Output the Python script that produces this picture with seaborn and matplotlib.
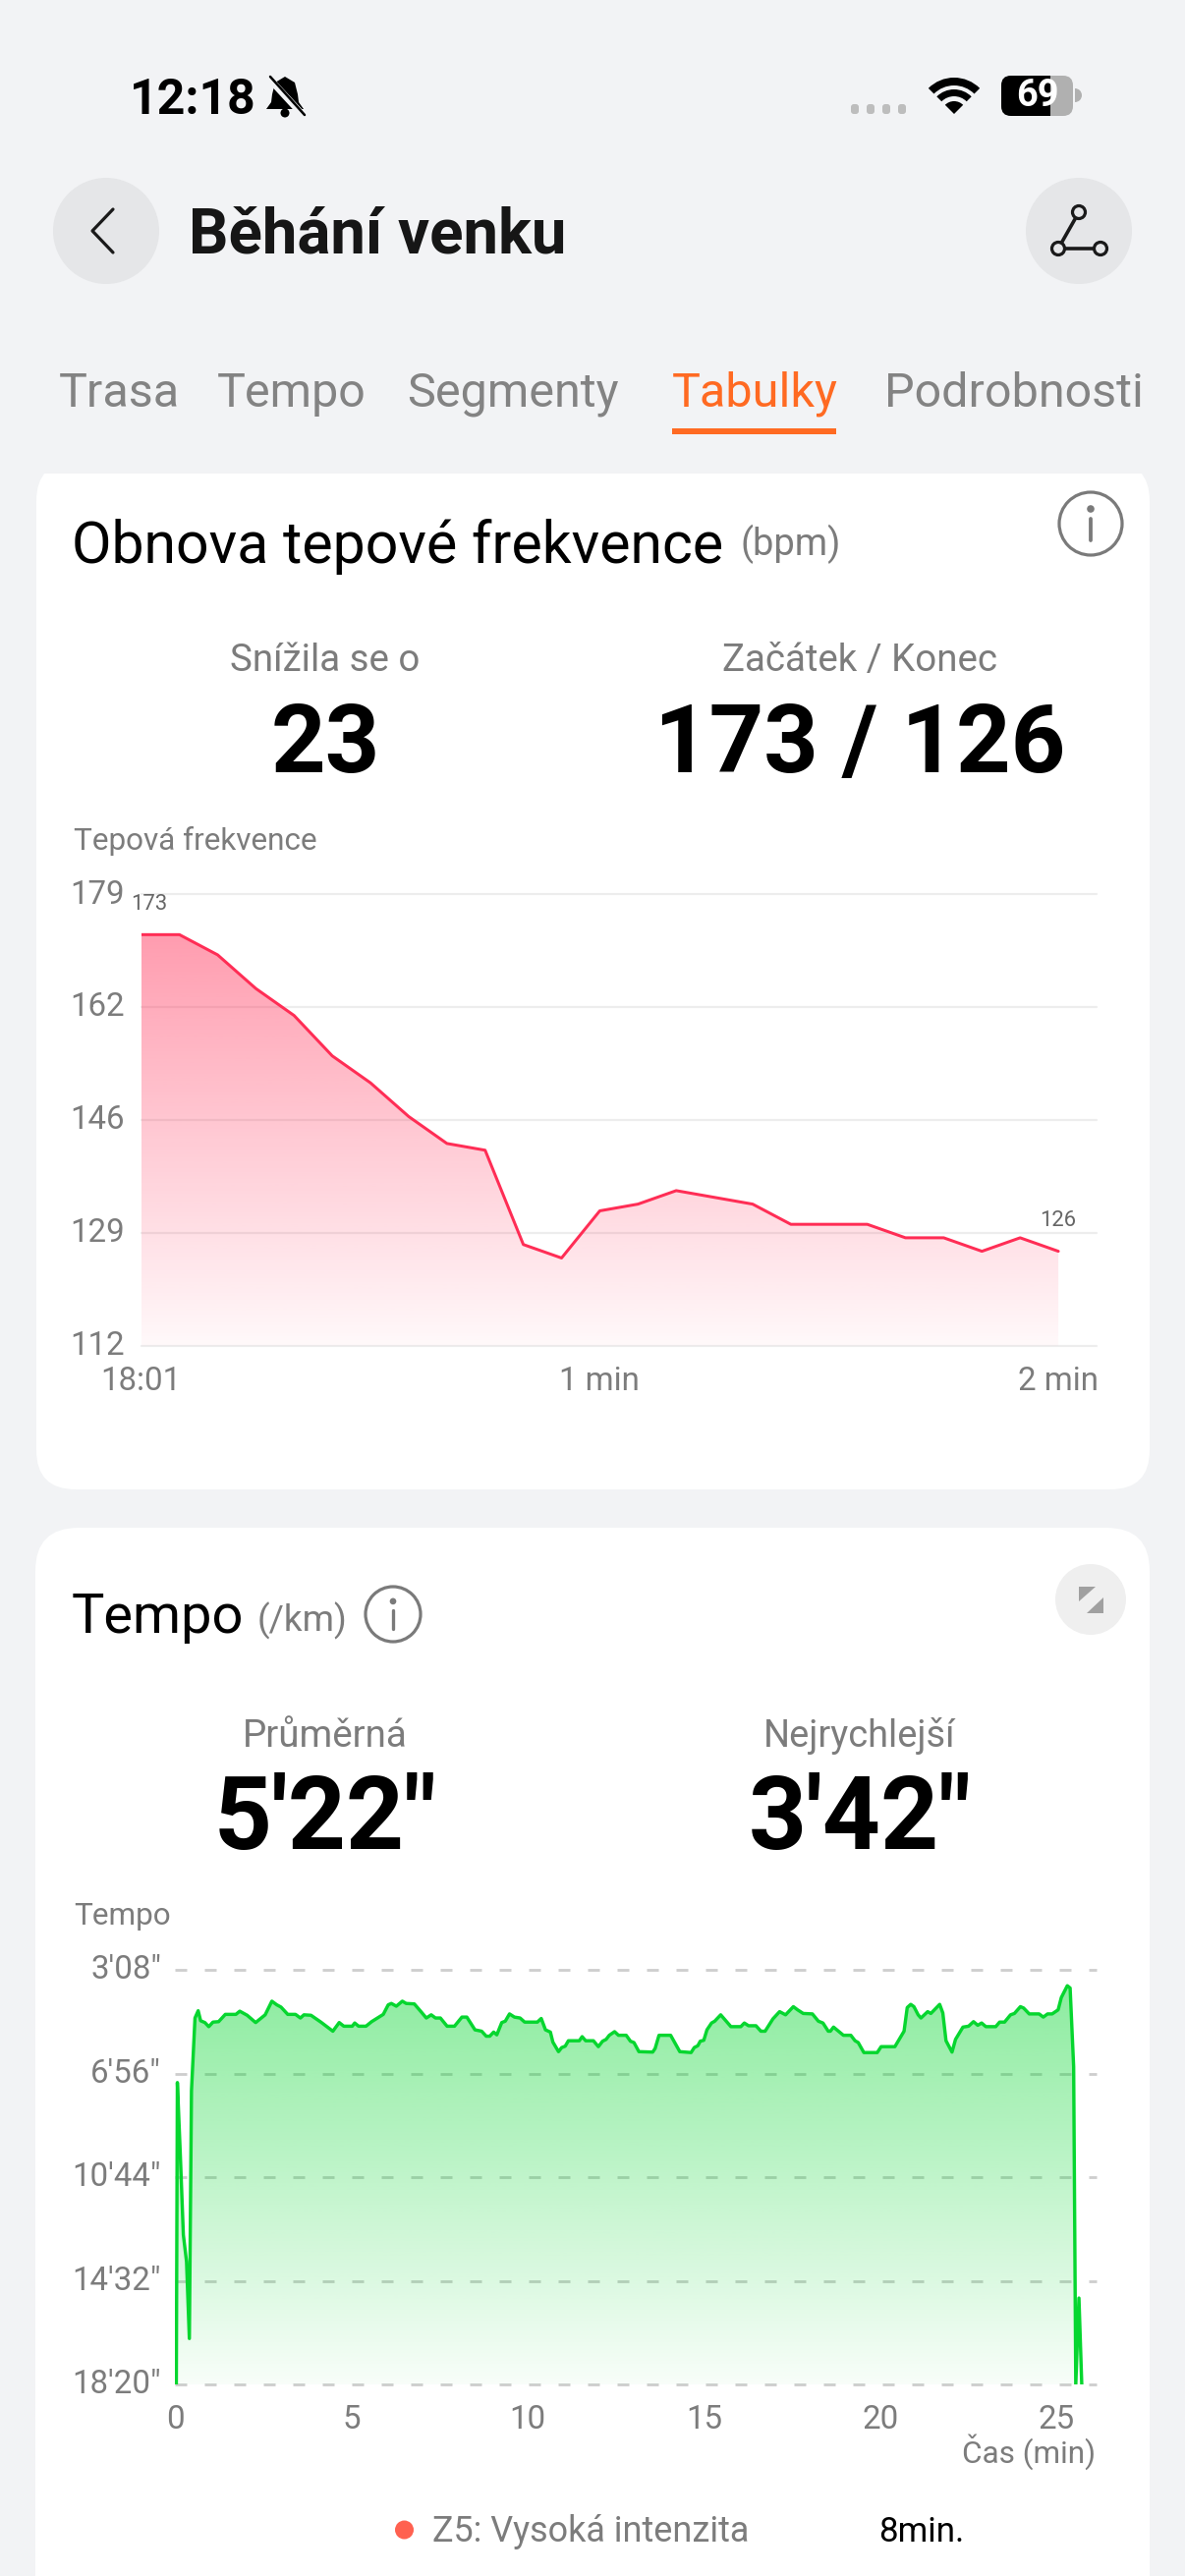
import numpy as np
import matplotlib
matplotlib.use('Agg')
import matplotlib.pyplot as plt
import seaborn as sns
from matplotlib.patches import Circle, FancyBboxPatch, Polygon, Rectangle, Wedge
from matplotlib.transforms import ScaledTranslation

W, H = 1206, 2622
DPI = 100

BG = '#F2F3F5'
GREY = '#7C7C7C'
ORANGE = '#FF6A22'
RED = '#FF2D55'
GREEN = '#06D62F'

# --- tabs ---
tab_labels = ['Trasa', 'Tempo', 'Segmenty', 'Tabulky', 'Podrobnosti']

# --- heart rate recovery ---
hr_seconds = [0, 5, 10, 15, 20, 25, 30, 35, 40, 45, 50, 55, 60, 65, 70, 75, 80, 85, 90, 95, 100, 105, 110, 115, 120]
hr_values = [173, 173, 170, 165, 161, 155, 151, 146, 142, 141, 127, 125, 132, 133, 135, 134, 133, 130, 130, 130, 128, 128, 126, 128, 126]
hr_yticks = [112, 128.75, 145.5, 162.25, 179]
hr_ylabels = ['112', '129', '146', '162', '179']
hr_xticks = [0, 60, 120]
hr_xlabels = ['18:01', '1 min', '2 min']

# --- pace, seconds per km over minutes ---
pace_minutes = [
    0.04, 0.07, 0.15, 0.24, 0.33, 0.41, 0.47, 0.57, 0.66, 0.73, 0.85, 0.96, 1.08, 1.24, 1.43, 1.73, 1.84, 2.05, 2.29,
    2.56, 2.75, 2.89, 3.01, 3.20, 3.42, 3.56, 3.66, 3.86, 4.14, 4.48, 4.66, 4.79, 5.03, 5.10, 5.21, 5.42, 5.58, 5.91,
    6.05, 6.14, 6.28, 6.45, 6.56, 6.79, 6.98, 7.13, 7.27, 7.39, 7.53, 7.72, 7.93, 8.14, 8.28, 8.51, 8.70, 8.83, 8.93,
    9.04, 9.13, 9.27, 9.37, 9.49, 9.63, 9.79, 9.92, 10.28, 10.39, 10.51, 10.65, 10.72, 10.88, 10.97, 11.07, 11.16,
    11.47, 11.55, 11.65, 11.87, 12.01, 12.13, 12.23, 12.32, 12.47, 12.58, 12.80, 12.92, 13.02, 13.16, 13.55, 13.62,
    13.73, 14.06, 14.32, 14.64, 14.73, 14.83, 14.90, 15.00, 15.09, 15.22, 15.31, 15.48, 15.77, 16.05, 16.15, 16.27,
    16.48, 16.62, 16.74, 16.96, 17.15, 17.32, 17.54, 17.66, 17.82, 18.08, 18.25, 18.38, 18.53, 18.59, 18.68, 18.82,
    18.96, 19.17, 19.29, 19.38, 19.54, 19.92, 20.03, 20.42, 20.68, 20.77, 20.87, 20.96, 21.08, 21.16, 21.35, 21.44,
    21.69, 21.78, 21.87, 22.04, 22.14, 22.35, 22.51, 22.65, 22.77, 22.88, 23.00, 23.28, 23.39, 23.53, 23.70, 23.81,
    23.98, 24.07, 24.23, 24.51, 24.63, 24.75, 24.88, 25.05, 25.14, 25.31, 25.39, 25.49, 25.55, 25.64, 25.72,
]
pace_seconds = [
    1100, 436, 588, 771, 830, 999, 454, 294, 278, 300, 304, 313, 303, 302, 286, 286, 279, 288, 304,
    287, 257, 265, 270, 286, 286, 294, 287, 288, 303, 323, 304, 312, 312, 305, 312, 312, 302, 286,
    265, 262, 268, 257, 262, 263, 280, 294, 287, 294, 294, 312, 312, 292, 292, 320, 323, 334, 334,
    325, 331, 304, 301, 285, 292, 294, 303, 303, 295, 320, 325, 347, 368, 359, 356, 344,
    344, 335, 344, 344, 357, 345, 341, 332, 324, 332, 332, 345, 348, 368, 369, 361,
    332, 332, 368, 370, 359, 355, 345, 343, 320, 305, 301, 287, 313, 313, 305, 311,
    311, 323, 323, 296, 280, 287, 269, 276, 284, 285, 301, 305, 323, 323, 314, 323,
    332, 332, 344, 348, 370, 370, 357, 357, 323, 271, 264, 269, 287, 294, 280, 284,
    264, 283, 344, 369, 341, 314, 312, 302, 310, 305, 313, 313, 303, 303, 287, 284,
    269, 272, 285, 285, 292, 285, 285, 276, 249, 223, 228, 401, 1100, 910, 1100,
]
pace_yticks = [188, 416, 644, 872, 1100]
pace_ylabels = ['3\'08"', '6\'56"', '10\'44"', '14\'32"', '18\'20"']
pace_xticks = [0, 5, 10, 15, 20, 25]


sns.set_theme(style='white')
plt.rcParams['font.family'] = ['Roboto', 'DejaVu Sans']
plt.rcParams['text.color'] = GREY

fig = plt.figure(figsize=(W / DPI, H / DPI), dpi=DPI, facecolor=BG)

# whole-figure axes in pixel coordinates for the app chrome
ui = fig.add_axes([0, 0, 1, 1], zorder=0)
ui.set_xlim(0, W)
ui.set_ylim(H, 0)
ui.axis('off')


def px(size):
    return size * 72 / DPI


def text(x, y, s, size, color=GREY, weight='normal', ha='left', va='baseline'):
    return ui.text(x, y, s, fontsize=px(size), color=color, fontweight=weight, ha=ha, va=va)


def info_icon(cx, cy, r):
    ui.add_patch(Circle((cx, cy), r, fc='none', ec='#7A7A7A', lw=px(3.2)))
    s = r / 32
    ui.add_patch(Circle((cx, cy - 15 * s), 3.8 * s, fc='#7A7A7A', ec='none'))
    ui.plot([cx, cx], [cy - 5 * s, cy + 17 * s], color='#7A7A7A', lw=px(3.8 * s), solid_capstyle='round')


# cards
ui.add_patch(FancyBboxPatch((37, 470), 1133, 1046, boxstyle='round,pad=0,rounding_size=40', fc='white', ec='none'))
ui.add_patch(Rectangle((0, 0), W, 482, fc=BG, ec='none'))
ui.add_patch(FancyBboxPatch((36, 1555), 1134, 1200, boxstyle='round,pad=0,rounding_size=44', fc='white', ec='none'))

# status bar
text(132, 116, '12:18', 50, color='black', weight='bold')
ui.add_patch(Polygon([(290, 78), (280, 84), (277, 96), (276, 104), (271, 111), (309, 111), (304, 104), (303, 96), (300, 84)],
                     fc='black', ec='none'))
ui.add_patch(Circle((290, 115), 4.5, fc='black', ec='none'))
ui.plot([273, 309], [79, 118], color=BG, lw=px(7))
ui.plot([275, 310], [78, 117], color='black', lw=px(2.5))
for x in [870, 886, 902, 918]:
    ui.add_patch(FancyBboxPatch((x - 4, 106), 8, 10, boxstyle='round,pad=0,rounding_size=3', fc='#BDBDBD', ec='none'))
ui.add_patch(Wedge((971, 116), 37, 225, 315, width=8, fc='black', ec='none'))
ui.add_patch(Wedge((971, 116), 25, 225, 315, width=7, fc='black', ec='none'))
ui.add_patch(Wedge((971, 116), 13, 225, 315, fc='black', ec='none'))
ui.add_patch(FancyBboxPatch((1019, 77), 73, 41, boxstyle='round,pad=0,rounding_size=10', fc='#B0B0B0', ec='none'))
bat = FancyBboxPatch((1019, 77), 73, 41, boxstyle='round,pad=0,rounding_size=10', fc='black', ec='none')
ui.add_patch(bat)
bat.set_clip_path(Rectangle((1019, 70), 50, 60, transform=ui.transData))
text(1056, 97, '69', 38, color='white', weight='bold', ha='center', va='center')
ui.add_patch(Wedge((1094, 97), 7, -90, 90, fc='#B0B0B0', ec='none'))

# header
ui.add_patch(Circle((108, 235), 54, fc='#E5E6E8', ec='none'))
ui.add_patch(Circle((1098, 235), 54, fc='#E5E6E8', ec='none'))
ui.plot([115, 94, 115], [213, 235, 257], color='#1A1A1A', lw=px(3.2), solid_capstyle='round', solid_joinstyle='round')
text(192, 257, 'Běhání venku', 63.5, color='#161616', weight='bold')
ui.plot([1098, 1077, 1120], [216, 253, 253], color='#1A1A1A', lw=px(3.6))
for cx, cy in [(1098, 216), (1077, 253), (1120, 253)]:
    ui.add_patch(Circle((cx, cy), 6.5, fc='#E5E6E8', ec='#1A1A1A', lw=px(3.2), zorder=3))

# tabs
for label, x in zip(tab_labels, [60, 221, 414, 684, 900]):
    text(x, 414, label, 48.5, color=ORANGE if label == 'Tabulky' else '#838383')
ui.add_patch(Rectangle((684, 436), 167, 6, fc=ORANGE, ec='none'))

# first card text
text(73, 573, 'Obnova tepové frekvence', 59, color='black')
text(753, 565, '(bpm)', 38)
info_icon(1110, 533, 32)
text(331, 683, 'Snížila se o', 38.5, ha='center')
text(875, 683, 'Začátek / Konec', 38.5, ha='center')
text(331, 786, '23', 97, color='black', weight='bold', ha='center')
text(875, 786, '173 / 126', 97, color='black', weight='bold', ha='center')
text(75, 865, 'Tepová frekvence', 31.5)

# second card text
text(73, 1662, 'Tempo', 56, color='black')
text(262, 1660, '(/km)', 37)
info_icon(400, 1643, 28)
ui.add_patch(Circle((1110, 1628), 36, fc='#EFEFEF', ec='none'))
ui.add_patch(Polygon([(1098, 1615), (1115, 1615), (1098, 1630)], fc='#A0A0A0', ec='none'))
ui.add_patch(Polygon([(1123, 1626), (1123, 1642), (1106, 1642)], fc='#A0A0A0', ec='none'))
text(331, 1778, 'Průměrná', 38.5, ha='center')
text(875, 1778, 'Nejrychlejší', 38, ha='center')
text(331, 1882, '5\'22"', 103, color='black', weight='bold', ha='center')
text(875, 1882, '3\'42"', 103, color='black', weight='bold', ha='center')
text(75, 1959, 'Tempo', 31.5)
text(1115, 2507, 'Čas (min)', 31.5, ha='right')

# legend row
ui.add_patch(Circle((411.5, 2575), 9.5, fc='#FF6150', ec='none'))
text(440, 2587, 'Z5: Vysoká intenzita', 36)
text(894, 2587, '8min.', 35, color='black')


def chart_axes(left, right, top, bottom):
    ax = fig.add_axes([left / W, 1 - bottom / H, (right - left) / W, (bottom - top) / H], zorder=1)
    ax.patch.set_alpha(0)
    sns.despine(ax=ax, left=True, bottom=True)
    return ax


def gradient_fill(ax, x, y, base, peak, color, alpha_top, alpha_bottom):
    # alpha gradient clipped to the area under the curve
    rgba = np.zeros((256, 1, 4))
    rgba[..., :3] = matplotlib.colors.to_rgb(color)
    rgba[..., 3] = np.linspace(alpha_top, alpha_bottom, 256)[:, None]
    xlim, ylim = ax.get_xlim(), ax.get_ylim()
    area = ax.fill_between(x, y, base, color='none', lw=0)
    im = ax.imshow(rgba, extent=(xlim[0], xlim[1], base, peak), origin='upper', aspect='auto', zorder=1.5)
    im.set_clip_path(area.get_paths()[0], transform=ax.transData)
    ax.set_xlim(xlim)
    ax.set_ylim(ylim)


def style_ticks(ax, xticks, xlabels, yticks, ylabels, xpad, ypad):
    ax.set_xticks(xticks, xlabels)
    ax.set_yticks(yticks, ylabels)
    ax.tick_params(axis='both', length=0, labelsize=px(33), labelcolor=GREY)
    ax.tick_params(axis='x', pad=xpad)
    ax.tick_params(axis='y', pad=ypad)
    ax.set_xlabel('')
    ax.set_ylabel('')
    shift = ScaledTranslation(0, 3.2 / DPI, fig.dpi_scale_trans)
    for lab in ax.get_yticklabels():
        lab.set_transform(lab.get_transform() + shift)


# heart rate chart
ax1 = chart_axes(143.7, 1116, 910.2, 1369.6)
ax1.set_xlim(0, 125)
ax1.set_ylim(112, 179)
ax1.grid(axis='y', color='#EDEDED', lw=px(2.2))
ax1.set_axisbelow(True)
gradient_fill(ax1, hr_seconds, hr_values, 112, 173, RED, 0.47, 0.03)
sns.lineplot(x=hr_seconds, y=hr_values, ax=ax1, color=RED, linewidth=px(3), estimator=None, sort=False, zorder=3)
style_ticks(ax1, hr_xticks, hr_xlabels, hr_yticks, hr_ylabels, px(20), px(17))
for line in ax1.yaxis.get_gridlines():
    line.set_clip_on(False)
for idx, dx in [(0, 8), (-1, 0)]:
    ax1.annotate(str(hr_values[idx]), (hr_seconds[idx], hr_values[idx]), xytext=(px(dx), px(31)),
                 textcoords='offset points', ha='center', va='center', fontsize=px(22), color='#666666')

# pace chart, y axis runs from slow (bottom) to fast (top)
ax2 = chart_axes(178, 1116, 2005, 2427)
ax2.set_xlim(0, 26.14)
ax2.set_ylim(1100, 188)
ax2.grid(axis='y', color='#CECECE', lw=px(2.8), linestyle=(0, (12 / 2.8, 18 / 2.8)))
ax2.set_axisbelow(True)
gradient_fill(ax2, pace_minutes, pace_seconds, 1100, 223, GREEN, 0.46, 0.03)
sns.lineplot(x=pace_minutes, y=pace_seconds, ax=ax2, color=GREEN, linewidth=px(3.4), estimator=None, sort=False, zorder=3)
style_ticks(ax2, pace_xticks, [str(v) for v in pace_xticks], pace_yticks, pace_ylabels, px(20), px(14))
for line in ax2.yaxis.get_gridlines():
    line.set_clip_on(False)

fig.savefig('out.png', dpi=DPI, facecolor=BG)
